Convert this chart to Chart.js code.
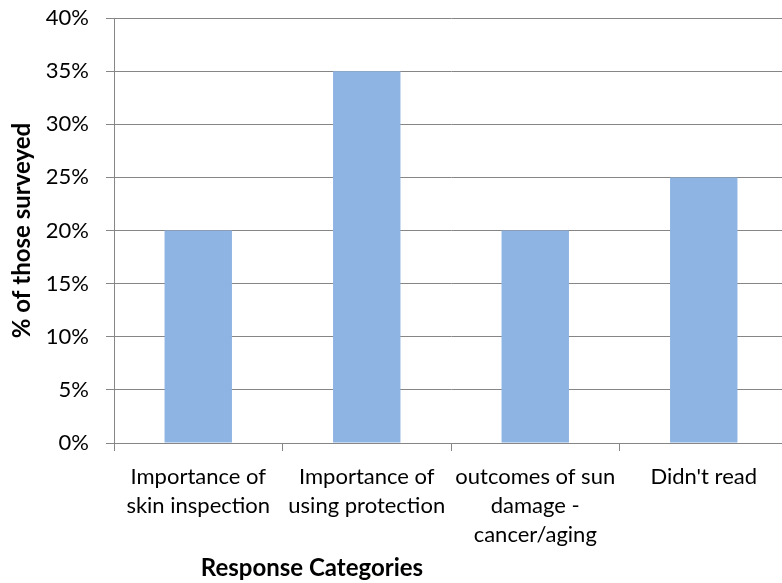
<!DOCTYPE html>
<html>
<head>
<meta charset="utf-8">
<script src="https://cdn.jsdelivr.net/npm/chart.js@4"></script>
<style>
  html, body { margin: 0; padding: 0; background: #fff; overflow: hidden; }
  #wrap { width: 790px; height: 583px; }
</style>
</head>
<body>
<div id="wrap"><canvas id="myChart" width="790" height="583"></canvas></div>
<script>
// data
var categories = [
  ["Importance of", "skin inspection"],
  ["Importance of", "using protection"],
  ["outcomes of sun", "damage -", "cancer/aging"],
  ["Didn't read"]
];
var percentSurveyed = [20, 35, 20, 25];
var yTicks = [0, 5, 10, 15, 20, 25, 30, 35, 40];

var xTitle = "Response Categories";
var yTitle = "% of those surveyed";

var FONT = "Lato, 'Open Sans', sans-serif";
var GRID = "#868686";

// x axis title sits left of centre in the original, so draw it by hand
var xTitlePlugin = {
  id: 'xTitle',
  afterDraw: function(chart) {
    var c = chart.ctx;
    c.save();
    c.font = "bold 24px " + FONT;
    c.fillStyle = "#000";
    c.textAlign = "center";
    c.textBaseline = "middle";
    c.fillText(xTitle, 312, 568);
    c.restore();
  }
};

var ctx = document.getElementById('myChart').getContext('2d');
var chart = new Chart(ctx, {
  type: 'bar',
  data: {
    labels: categories,
    datasets: [{
      data: percentSurveyed,
      backgroundColor: '#8EB4E3',
      borderWidth: 0,
      barPercentage: 0.4,
      categoryPercentage: 1.0
    }]
  },
  options: {
    responsive: false,
    animation: false,
    layout: { padding: { top: 18, right: 2, left: 0, bottom: 0 } },
    plugins: {
      legend: { display: false },
      tooltip: { enabled: false }
    },
    scales: {
      x: {
        grid: {
          offset: true,
          drawOnChartArea: false,
          drawTicks: true,
          tickLength: 8,
          color: GRID
        },
        border: { color: GRID, width: 1 },
        ticks: {
          color: '#000',
          padding: 11,
          maxRotation: 0,
          autoSkip: false,
          font: { family: FONT, size: 22, lineHeight: 1.32 }
        },
        afterFit: function(scale) { scale.height = 140; }
      },
      y: {
        min: 0,
        max: 40,
        afterBuildTicks: function(scale) {
          scale.ticks = yTicks.map(function(v) { return { value: v }; });
        },
        grid: {
          color: GRID,
          tickLength: 8,
          drawTicks: true
        },
        border: { color: GRID, width: 1 },
        ticks: {
          color: '#000',
          padding: 17,
          font: { family: FONT, size: 22 },
          callback: function(v) { return v + '%'; }
        },
        title: {
          display: true,
          text: yTitle,
          color: '#000',
          font: { family: FONT, size: 24, weight: 'bold' },
          padding: { top: 8, bottom: 0 }
        },
        afterFit: function(scale) {
          scale.width = 114;
          // tick padding would otherwise push the top gridline down
          scale.paddingTop = 0;
          scale.paddingBottom = 0;
        }
      }
    }
  },
  plugins: [xTitlePlugin]
});
</script>
</body>
</html>
